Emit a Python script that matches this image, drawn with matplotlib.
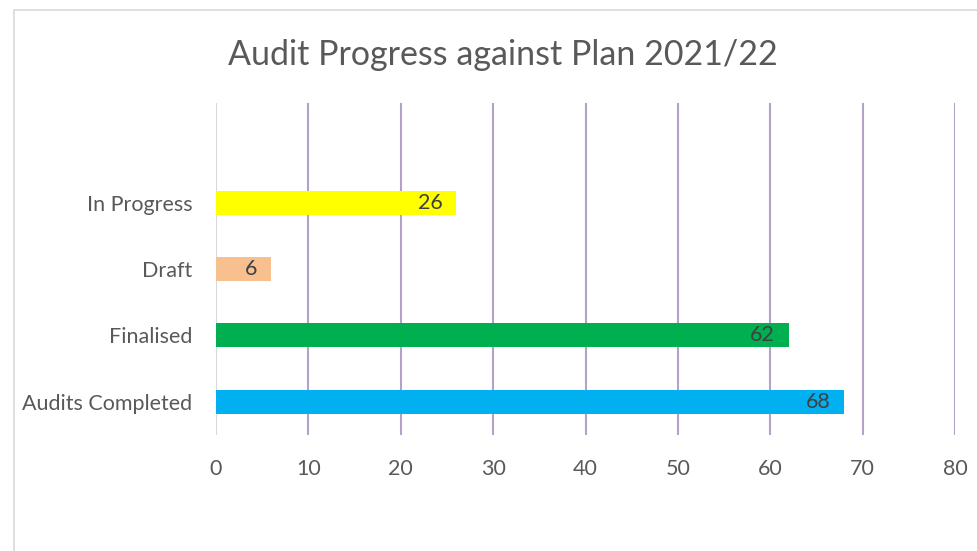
import matplotlib.pyplot as plt
from matplotlib.patches import Rectangle

categories = ["Audits Completed", "Finalised", "Draft", "In Progress"]
values = [68, 62, 6, 26]
colors = ["#00B0F0", "#00B050", "#F8C08F", "#FFFF00"]
ticks = [0, 10, 20, 30, 40, 50, 60, 70, 80]

plt.rcParams['font.family'] = ['Lato', 'DejaVu Sans']

fig = plt.figure(figsize=(9.78, 5.51), dpi=100)
ax = fig.add_axes([216/978, 1-435/551, (955-216)/978, (435-103)/551])

# chart area border (runs off the right/bottom like the original)
fig.patches.append(Rectangle((14/978, -0.1), 1.2, 0.9819+0.1, transform=fig.transFigure,
                             fill=False, edgecolor="#D9D9D9", linewidth=1.2))

pos = list(range(len(categories)))
ax.barh(pos, values, height=0.36, color=colors, zorder=3)

for p, v in zip(pos, values):
    ax.annotate(str(v), xy=(v, p), xytext=(-10, 0), textcoords="offset points",
                ha="right", va="center", fontsize=15.5, color="#404040", zorder=4)

ax.set_xlim(0, 80)
ax.set_ylim(-0.5, 4.5)
ax.set_xticks(ticks)
ax.set_yticks(pos)
ax.set_yticklabels(categories)
ax.tick_params(length=0, labelsize=15.5, colors="#595959")
ax.tick_params(axis="x", pad=17)
ax.tick_params(axis="y", pad=17)

for t in ticks[1:]:
    ax.axvline(t, color="#B3A2C7", linewidth=1.5, zorder=1)
ax.axvline(0, color="#D9D9D9", linewidth=1.5, zorder=2)

for s in ax.spines.values():
    s.set_visible(False)

fig.text(503/978, 1-55/551, "Audit Progress against Plan 2021/22", ha="center", va="center",
         fontsize=24.5, color="#595959")

fig.savefig("out.png", dpi=100)
